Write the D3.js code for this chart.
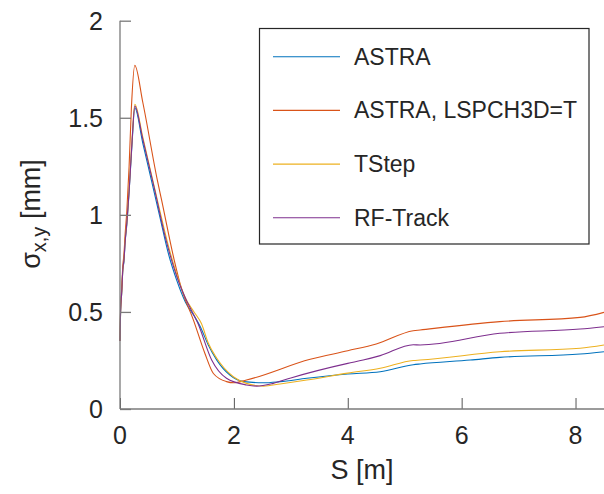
<!DOCTYPE html>
<html lang="en">
<head>
    <meta charset="UTF-8">
    <title>sigma x,y</title>
    <script src="https://cdn.jsdelivr.net/npm/d3@7"></script>
    <style>
        body{ margin: 0; background: #fff; }
        svg text{ font-family: "Liberation Sans", Arial, sans-serif; fill: #262626; }
        .axis-line{ stroke: #7a7a7a; stroke-width: 1.3; }
        .tick-mark{ stroke: #555; stroke-width: 1; }
        .curve{ fill: none; stroke-width: 1.1; }
    </style>
</head>
<body>
    <svg id="main-svg" width="604" height="494"></svg>

    <script>

        // S [m] positions and sigma values [mm]
        const sAstra = [0, 0.01, 0.03, 0.05, 0.07, 0.09, 0.12, 0.16, 0.21, 0.26, 0.4, 0.55, 0.7, 0.85, 1.0, 1.15, 1.3, 1.4, 1.55, 1.7, 1.93, 2.17, 2.52, 2.81, 3.28, 4.0, 4.57, 5.15, 5.27, 6.15, 6.67, 8.08, 8.5];
        const astra  = [0.35, 0.5, 0.6, 0.72, 0.76, 0.86, 0.95, 1.12, 1.36, 1.55, 1.37, 1.18, 0.99, 0.8, 0.66, 0.55, 0.48, 0.43, 0.33, 0.252, 0.175, 0.141, 0.135, 0.141, 0.158, 0.18, 0.192, 0.228, 0.232, 0.252, 0.266, 0.283, 0.295];

        const sLsp = [0, 0.01, 0.03, 0.05, 0.07, 0.09, 0.12, 0.16, 0.2, 0.26, 0.4, 0.655, 0.73, 0.95, 1.08, 1.29, 1.49, 1.64, 1.87, 2.0, 2.22, 3.34, 4.0, 4.5, 5.15, 5.27, 6.67, 8.08, 8.5];
        const lsp  = [0.35, 0.52, 0.62, 0.74, 0.8, 0.9, 1.02, 1.25, 1.55, 1.77, 1.58, 1.18, 1.077, 0.77, 0.62, 0.458, 0.287, 0.183, 0.141, 0.135, 0.149, 0.256, 0.3, 0.335, 0.403, 0.407, 0.45, 0.472, 0.498];

        const sTstep = [0, 0.01, 0.03, 0.05, 0.07, 0.09, 0.12, 0.16, 0.21, 0.26, 0.4, 0.655, 0.85, 1.0, 1.15, 1.3, 1.43, 1.55, 1.7, 1.99, 2.22, 2.52, 2.81, 3.28, 4.0, 4.57, 5.15, 5.27, 6.67, 8.08, 8.5];
        const tstep  = [0.35, 0.5, 0.6, 0.72, 0.77, 0.87, 0.96, 1.13, 1.38, 1.57, 1.4, 1.077, 0.84, 0.69, 0.57, 0.5, 0.44, 0.34, 0.261, 0.166, 0.132, 0.118, 0.129, 0.149, 0.185, 0.21, 0.25, 0.252, 0.295, 0.313, 0.33];

        const sRft = [0, 0.01, 0.03, 0.05, 0.07, 0.09, 0.12, 0.16, 0.21, 0.26, 0.4, 0.6, 0.8, 1.0, 1.15, 1.37, 1.61, 1.87, 2.22, 2.4, 2.69, 3.0, 4.0, 4.27, 4.57, 5.15, 5.27, 6.67, 8.08, 8.5];
        const rft  = [0.35, 0.5, 0.6, 0.72, 0.77, 0.86, 0.96, 1.12, 1.37, 1.56, 1.39, 1.14, 0.88, 0.68, 0.57, 0.44, 0.252, 0.158, 0.124, 0.118, 0.132, 0.16, 0.235, 0.252, 0.275, 0.331, 0.33, 0.39, 0.412, 0.424];

        const seriesNames = ['ASTRA', 'ASTRA, LSPCH3D=T', 'TStep', 'RF-Track'];
        const seriesColors = ['#0072bd', '#d95319', '#edb120', '#7e2f8e'];
        const seriesS = [sAstra, sLsp, sTstep, sRft];
        const seriesV = [astra, lsp, tstep, rft];

        const xTicks = [0, 2, 4, 6, 8];
        const yTicks = [0, 0.5, 1, 1.5, 2];

        let mSvg = d3.select('#main-svg');

        let x = d3.scaleLinear().domain([0, 8.5]).range([120, 604]);
        let y = d3.scaleLinear().domain([0, 2]).range([409, 20.7]);

        // data lines
        let line = d3.line()
            .x(d => x(d[0]))
            .y(d => y(d[1]))
            .curve(d3.curveMonotoneX);

        let plot = mSvg.append('g');
        seriesNames.forEach((name, k) => {
            let pts = seriesS[k].map((s, i) => [s, seriesV[k][i]]);
            plot.append('path')
                .datum(pts)
                .classed('curve', true)
                .attr('d', line)
                .style('stroke', seriesColors[k]);
        });

        // axes, ticks pointing inward
        let xAxis = d3.axisTop(x).tickValues(xTicks).tickSize(11).tickFormat('');
        let yAxis = d3.axisRight(y).tickValues(yTicks).tickSize(11).tickFormat('');

        mSvg.append('g')
            .attr('transform', 'translate(0,' + y(0) + ')')
            .call(xAxis)
            .call(g => g.select('.domain').remove())
            .selectAll('line').attr('class', 'tick-mark');

        mSvg.append('g')
            .attr('transform', 'translate(' + x(0) + ',0)')
            .call(yAxis)
            .call(g => g.select('.domain').remove())
            .selectAll('line').attr('class', 'axis-line');

        mSvg.append('line').classed('axis-line', true)
            .attr('x1', x(0)).attr('x2', 604)
            .attr('y1', y(0)).attr('y2', y(0));
        mSvg.append('line').classed('axis-line', true)
            .attr('x1', x(0)).attr('x2', x(0))
            .attr('y1', y(0)).attr('y2', y(2));

        // tick labels
        mSvg.selectAll('.xlab')
            .data(xTicks)
            .enter()
            .append('text')
            .attr('x', d => x(d))
            .attr('y', 444)
            .attr('text-anchor', 'middle')
            .style('font-size', '25px')
            .text(d => d);

        mSvg.selectAll('.ylab')
            .data(yTicks)
            .enter()
            .append('text')
            .attr('x', 103)
            .attr('y', d => y(d) + 9)
            .attr('text-anchor', 'end')
            .style('font-size', '25px')
            .text(d => d);

        // axis titles
        mSvg.append('text')
            .attr('x', 362)
            .attr('y', 479)
            .attr('text-anchor', 'middle')
            .style('font-size', '27px')
            .text('S [m]');

        let yTitle = mSvg.append('text')
            .attr('transform', 'translate(40,214) rotate(-90)')
            .attr('text-anchor', 'middle')
            .style('font-size', '27px');
        yTitle.append('tspan').text('σ');
        yTitle.append('tspan').attr('dy', 6).style('font-size', '20px').text('x,y');
        yTitle.append('tspan').attr('dy', -6).text(' [mm]');

        // legend
        let legend = mSvg.append('g');
        legend.append('rect')
            .attr('x', 259.5).attr('y', 28.5)
            .attr('width', 329.5).attr('height', 215.5)
            .style('fill', '#fff')
            .style('stroke', '#262626')
            .style('stroke-width', 1.2);

        let rows = legend.selectAll('.leg-row')
            .data(seriesNames)
            .enter()
            .append('g')
            .attr('transform', (d, i) => 'translate(0,' + (56.7 + i * 53.7) + ')');

        rows.append('line')
            .attr('x1', 273).attr('x2', 340)
            .attr('y1', 0).attr('y2', 0)
            .style('stroke', (d, i) => seriesColors[i])
            .style('stroke-width', 1.1);

        rows.append('text')
            .attr('x', 354)
            .attr('y', 8)
            .style('font-size', '23px')
            .text(d => d);

    </script>
</body>
</html>
